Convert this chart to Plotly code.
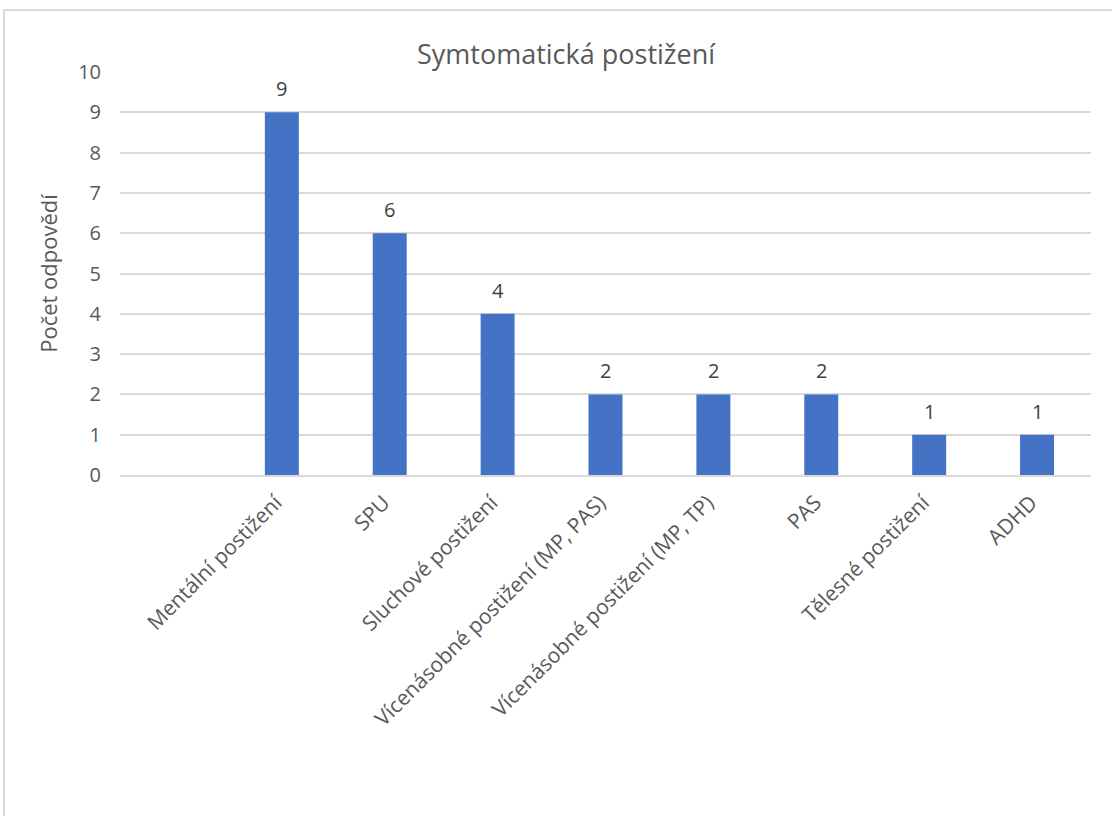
import plotly.graph_objects as go

categories = ["Mentální postižení", "SPU", "Sluchové postižení",
              "Vícenásobné postižení (MP, PAS)", "Vícenásobné postižení (MP, TP)",
              "PAS", "Tělesné postižení", "ADHD"]
values = [9, 6, 4, 2, 2, 2, 1, 1]
y_ticks = list(range(0, 11))

W, H = 1112, 816
L, R, T, B = 120, 21, 72, 341
pw = W - L - R
ph = H - T - B

def px_x(p):
    return (p - L) / pw

def px_y(p):
    return (H - B - p) / ph

fig = go.Figure(go.Bar(
    x=categories, y=values,
    marker=dict(color="#4472c4", line=dict(width=0)),
    cliponaxis=False,
))

annotations = [
    dict(x=c, y=v, xref="x", yref="y", text=str(v), showarrow=False,
         yanchor="bottom", yshift=8,
         font=dict(family="Open Sans", size=20, color="#404040"))
    for c, v in zip(categories, values)
]

fig.update_layout(
    width=W, height=H,
    margin=dict(l=L, r=R, t=T, b=B),
    paper_bgcolor="white", plot_bgcolor="white",
    bargap=0.685,
    showlegend=False,
    title=dict(text="Symtomatická postižení", x=566 / W, xanchor="center",
               y=1 - 55 / H, yanchor="middle", yref="container",
               font=dict(family="Open Sans", size=27, color="#595959")),
    font=dict(family="Open Sans", color="#595959"),
    annotations=annotations,
    shapes=[
        dict(type="line", xref="paper", yref="paper",
             x0=px_x(4), x1=px_x(W + 5), y0=px_y(10), y1=px_y(10),
             line=dict(color="#d9d9d9", width=2)),
        dict(type="line", xref="paper", yref="paper",
             x0=px_x(4), x1=px_x(4), y0=px_y(10), y1=px_y(H + 5),
             line=dict(color="#d9d9d9", width=2)),
    ],
)

fig.update_xaxes(
    type="category", range=[-1.5, 7.5],
    tickangle=-45, tickfont=dict(family="Open Sans", size=21, color="#595959"),
    showgrid=False, showline=True, linecolor="#d9d9d9", linewidth=2,
    ticks="", ticklabelstandoff=5, ticklabelshift=-6,
)
fig.update_yaxes(
    range=[0, 10], tickvals=y_ticks, ticktext=[str(v) for v in y_ticks],
    tickfont=dict(family="Open Sans", size=20, color="#595959"),
    showgrid=True, gridcolor="#d9d9d9", gridwidth=1.5,
    zeroline=False, showline=False, ticks="", ticklabelstandoff=18,
    title=dict(text="Počet odpovědí", standoff=14,
               font=dict(family="Open Sans", size=22, color="#595959")),
)

fig.write_html("out.html", config={"displayModeBar": False},
               post_script="document.body.style.margin='0';document.body.style.overflow='hidden';")
